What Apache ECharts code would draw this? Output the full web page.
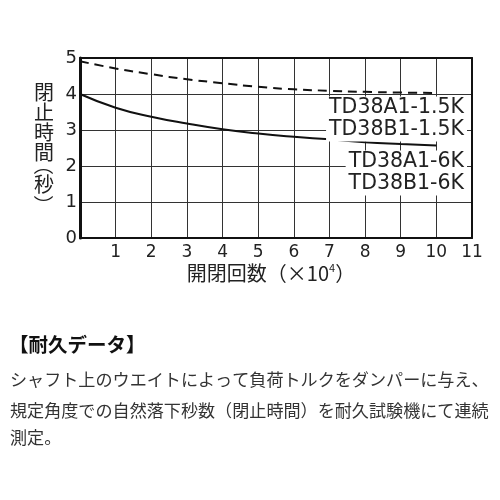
<!DOCTYPE html>
<html><head><meta charset="utf-8">
<script src="https://cdn.jsdelivr.net/npm/echarts@6/dist/echarts.min.js"></script>
<style>html,body{margin:0;padding:0;background:#fff}#wrap{position:relative;width:500px;height:500px}#c,#t{position:absolute;left:0;top:0;width:500px;height:500px}#t{pointer-events:none}</style>
</head><body><div id="wrap"><div id="c"></div><div id="t"></div></div>
<script>
// ---- data ----
const cycles = [0, 1, 2, 3, 4, 5, 6, 7, 8, 9, 10];
const time15K = [4.91, 4.71, 4.55, 4.41, 4.30, 4.20, 4.13, 4.09, 4.06, 4.04, 4.03];
const time6K  = [4.00, 3.62, 3.37, 3.18, 3.02, 2.90, 2.81, 2.74, 2.66, 2.61, 2.57];
const xMax = 11;
const yMax = 5;
const labels15K = ['TD38A1-1.5K', 'TD38B1-1.5K'];
const labels6K = ['TD38A1-6K', 'TD38B1-6K'];
const yTitleMain = ['閉', '止', '時', '間'];
const yTitleUnit = ['（', '秒', '）'];
const xTitleMain = '開閉回数（×10';
const xTitleSup = '4';
const xTitleEnd = '）';
const noteTitle = '【耐久データ】';
const noteLines = [
  'シャフト上のウエイトによって負荷トルクをダンパーに与え、',
  '規定角度での自然落下秒数（閉止時間）を耐久試験機にて連続',
  '測定。'
];

const JP = '"Noto Sans CJK JP", sans-serif';
const NUM = '"DejaVu Sans", sans-serif';

// ---- chart instance (axes, grid, curves) ----
const chart = echarts.init(document.getElementById('c'), null, {renderer: 'canvas'});
const borderAxis = {show: true, onZero: false, lineStyle: {color: '#111', width: 2}};
chart.setOption({
  animation: false,
  backgroundColor: '#fff',
  grid: {left: 80, top: 58, width: 392, height: 180},
  xAxis: [{
    type: 'value', min: 0, max: xMax, interval: 1, position: 'bottom',
    axisLine: {show: true, onZero: false, lineStyle: {color: '#111', width: 2}},
    axisTick: {show: false},
    splitLine: {show: true, lineStyle: {color: '#333', width: 1}},
    axisLabel: {fontFamily: NUM, fontSize: 17, color: '#222', margin: 6,
      formatter: v => v === 0 ? '' : String(v)}
  }, {
    type: 'value', min: 0, max: xMax, position: 'top',
    axisLine: borderAxis, axisTick: {show: false}, axisLabel: {show: false}, splitLine: {show: false}
  }],
  yAxis: [{
    type: 'value', min: 0, max: yMax, interval: 1, position: 'left',
    axisLine: {show: true, onZero: false, lineStyle: {color: '#111', width: 3}},
    axisTick: {show: false},
    splitLine: {show: true, lineStyle: {color: '#333', width: 1}},
    axisLabel: {fontFamily: NUM, fontSize: 18, color: '#222', margin: 3}
  }, {
    type: 'value', min: 0, max: yMax, position: 'right',
    axisLine: borderAxis, axisTick: {show: false}, axisLabel: {show: false}, splitLine: {show: false}
  }],
  series: [
    {type: 'line', name: '1.5K', data: cycles.map((c, i) => [c, time15K[i]]), smooth: true, symbol: 'none',
      lineStyle: {color: '#111', width: 2, type: [9, 6]}, z: 5},
    {type: 'line', name: '6K', data: cycles.map((c, i) => [c, time6K[i]]), smooth: true, symbol: 'none',
      lineStyle: {color: '#111', width: 2}, z: 5}
  ]
});

// ---- text overlay instance ----
const graphic = [];
yTitleMain.forEach((ch, i) => {
  graphic.push({type: 'text', x: 44, y: 92 + i * 20.3,
    style: {text: ch, font: '20px ' + JP, fill: '#222', align: 'center', verticalAlign: 'middle'}});
});
const unitY = [165, 184, 205];
yTitleUnit.forEach((ch, i) => {
  const rot = i === 1 ? 0 : -Math.PI / 2;
  graphic.push({type: 'text', x: 44, y: unitY[i], rotation: rot,
    style: {text: ch, font: '20px ' + JP, fill: '#222', align: 'center', verticalAlign: 'middle'}});
});
graphic.push({type: 'text', x: 271, y: 273,
  style: {
    text: '{m|' + xTitleMain + '}{s|' + xTitleSup + '}{m|' + xTitleEnd + '}',
    align: 'center', verticalAlign: 'middle',
    rich: {
      m: {fontFamily: JP, fontSize: 20, fill: '#222'},
      s: {fontFamily: JP, fontSize: 11, fill: '#222', verticalAlign: 'top', padding: [0, 0, 10, 0]}
    }
  }});
const allLabels = labels15K.concat(labels6K);
const labelY = [108, 130, 162, 184];
allLabels.forEach((t, i) => {
  graphic.push({type: 'text', x: 467, y: labelY[i],
    style: {text: t, font: '20.5px ' + NUM, fill: '#222', align: 'right', verticalAlign: 'middle',
      backgroundColor: '#fff', padding: [1, 3, 1, 3]}});
});
graphic.push({type: 'text', x: 9, y: 345,
  style: {text: noteTitle, font: 'bold 19.5px ' + JP, fill: '#111', align: 'left', verticalAlign: 'middle'}});
const noteY = [379, 410, 437];
noteLines.forEach((t, i) => {
  graphic.push({type: 'text', x: 10, y: noteY[i],
    style: {text: t, font: '17.1px ' + JP, fill: '#333', align: 'left', verticalAlign: 'middle'}});
});
const overlay = echarts.init(document.getElementById('t'), null, {renderer: 'canvas'});
overlay.setOption({animation: false, graphic: graphic});
</script>
</body></html>
